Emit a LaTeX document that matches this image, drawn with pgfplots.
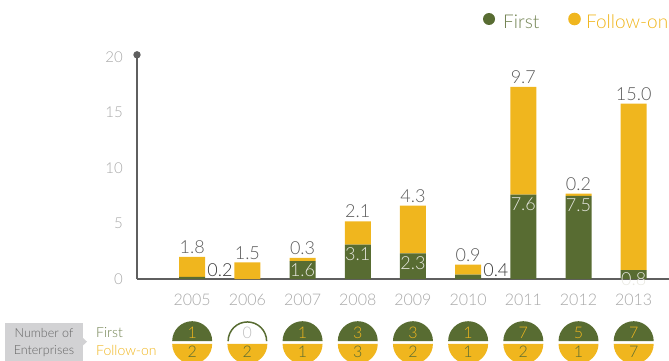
\documentclass[border=0pt]{standalone}
\usepackage{pgfplots}
\pgfplotsset{compat=1.18}
\usepackage{pgfplotstable}
\usepackage{fontspec}
\setmainfont{Lato Light}
\definecolor{fgreen}{RGB}{88,108,50}
\definecolor{fyellow}{RGB}{240,182,30}
\definecolor{ticktxt}{RGB}{168,168,168}
\definecolor{valtxt}{RGB}{90,90,90}
\definecolor{outtxt}{RGB}{55,55,55}
\definecolor{axisgray}{RGB}{95,95,95}
\definecolor{boxgray}{RGB}{210,210,212}
\definecolor{boxtxt}{RGB}{100,100,100}
\definecolor{intxt}{RGB}{232,232,225}
\definecolor{zerotxt}{RGB}{190,190,190}
\pgfplotsset{/pgf/number format/assume math mode=true}

\pgfdeclareplotmark{tophalf}{%
  \pgfpathmoveto{\pgfqpoint{\pgfplotmarksize}{1.3bp}}%
  \pgfpatharc{0}{180}{\pgfplotmarksize}%
  \pgfpathclose
  \pgfusepathqfill}
\pgfdeclareplotmark{tophalfo}{%
  \pgfpathmoveto{\pgfqpoint{\pgfplotmarksize}{1.3bp}}%
  \pgfpatharc{0}{180}{\pgfplotmarksize}%
  \pgfusepathqstroke}
\pgfdeclareplotmark{bothalf}{%
  \pgfpathmoveto{\pgfqpoint{-\pgfplotmarksize}{-1.3bp}}%
  \pgfpatharc{180}{360}{\pgfplotmarksize}%
  \pgfpathclose
  \pgfusepathqfill}

\pgfplotstableread{
x first follow total nfirst nfollow
0 0.2 1.8 2.0 1 2
1 0.0 1.5 1.5 0 2
2 1.6 0.3 1.9 1 1
3 3.1 2.1 5.2 3 3
4 2.3 4.3 6.6 3 2
5 0.4 0.9 1.3 1 1
6 7.6 9.7 17.3 7 2
7 7.5 0.2 7.7 5 1
8 0.8 15.0 15.8 7 7
}\datatable

\begin{document}
\begin{tikzpicture}[x=1bp,y=1bp]
\useasboundingbox (0,0) rectangle (669,360);
\clip (0,0) rectangle (669,360);

% left annotation
\fill[boxgray] (5,-5) rectangle (83,37);
\fill[boxgray] (83,22) -- (87,18.3) -- (83,14.6) -- cycle;
\node[anchor=base, text=boxtxt, font=\fontsize{12.5bp}{12.5bp}\selectfont, inner sep=0pt] at (44,23) {Number of};
\node[anchor=base, text=boxtxt, font=\fontsize{12.5bp}{12.5bp}\selectfont, inner sep=0pt] at (44,6) {Enterprises};
\node[anchor=base west, text=fgreen!85!white, font=\fontsize{14bp}{14bp}\selectfont, inner sep=0pt] at (96,22.5) {First};
\node[anchor=base west, text=fyellow, font=\fontsize{14bp}{14bp}\selectfont, inner sep=0pt] at (96,5) {Follow-on};

% legend
\fill[fgreen] (489,341) circle (6);
\node[anchor=base west, text=fgreen!85!white, font=\fontsize{19bp}{19bp}\selectfont, inner sep=0pt] at (503,332) {First};
\fill[fyellow] (574.5,341) circle (6.3);
\node[anchor=base west, text=fyellow, font=\fontsize{19bp}{19bp}\selectfont, inner sep=0pt] at (586,332) {Follow-on};

\begin{axis}[
  at={(137bp,81bp)}, anchor=south west, scale only axis,
  width=532bp, height=224.2bp,
  xmin=-1, xmax=8.64, ymin=0, ymax=20.2,
  axis lines=left, axis line style={draw=axisgray, line width=1.3bp, -},
  ytick={0,5,10,15,20}, xtick={0,1,2,3,4,5,6,7,8},
  xticklabels={2005,2006,2007,2008,2009,2010,2011,2012,2013},
  major tick length=0pt,
  tick label style={text=ticktxt},
  yticklabel style={anchor=east, inner sep=0pt, xshift=-14bp, font=\fontsize{15bp}{15bp}\selectfont},
  xticklabel style={anchor=north, inner sep=0pt, yshift=-15bp, font=\fontsize{16bp}{16bp}\selectfont},
  ybar stacked, bar width=26bp,
  clip=false,
]
\addplot[fill=fgreen, draw=none] table[x=x, y=first] \datatable;
\addplot[fill=fyellow, draw=none] table[x=x, y=follow] \datatable;
\fill[axisgray] (rel axis cs:0,1) circle (3.7bp);
\end{axis}

\begin{axis}[
  at={(137bp,81bp)}, anchor=south west, scale only axis,
  width=532bp, height=224.2bp,
  xmin=-1, xmax=8.64, ymin=0, ymax=20.2,
  hide axis, clip=false,
]
% follow-on values above bars
\addplot[draw=none, mark=none, point meta=explicit,
  nodes near coords={\pgfmathprintnumber[fixed,fixed zerofill,precision=1]{\pgfplotspointmeta}},
  every node near coord/.append style={anchor=south, inner sep=0pt, yshift=3bp, text=valtxt, font=\fontsize{18bp}{18bp}\selectfont}]
  table[x=x, y=total, meta=follow] \datatable;
% first values inside green bars
\addplot[draw=none, mark=none, point meta=explicit,
  nodes near coords={\pgfmathprintnumber[fixed,fixed zerofill,precision=1]{\pgfplotspointmeta}},
  every node near coord/.append style={anchor=north, inner sep=0pt, yshift=-2.5bp, text=intxt, font=\fontsize{18bp}{18bp}\selectfont}]
  table[x=x, y=y, meta=v] {
x y v
2 1.6 1.6
3 3.1 3.1
4 2.3 2.3
6 7.6 7.6
7 7.5 7.5
8 0.8 0.8
};
% first values beside small bars
\addplot[draw=none, mark=none, point meta=explicit,
  nodes near coords={\pgfmathprintnumber[fixed,fixed zerofill,precision=1]{\pgfplotspointmeta}},
  every node near coord/.append style={anchor=south west, inner sep=0pt, xshift=15bp, yshift=2bp, text=outtxt, font=\fontsize{18bp}{18bp}\selectfont}]
  table[x=x, y=y, meta=v] {
x y v
0 0 0.2
5 0 0.4
};
% number of enterprises circles
\addplot[only marks, mark=tophalf, mark size=20bp, mark options={fill=fgreen, draw=none}]
  coordinates {(0,-5.72) (2,-5.72) (3,-5.72) (4,-5.72) (5,-5.72) (6,-5.72) (7,-5.72) (8,-5.72)};
\addplot[only marks, mark=tophalfo, mark size=19.25bp, mark options={draw=fgreen, line width=1.5bp}]
  coordinates {(1,-5.72)};
\addplot[only marks, mark=bothalf, mark size=20bp, mark options={fill=fyellow, draw=none}]
  coordinates {(0,-5.72) (1,-5.72) (2,-5.72) (3,-5.72) (4,-5.72) (5,-5.72) (6,-5.72) (7,-5.72) (8,-5.72)};
\addplot[draw=none, mark=none, point meta=explicit symbolic, nodes near coords,
  every node near coord/.append style={anchor=center, text=fyellow, font=\fontsize{16bp}{16bp}\selectfont}]
  table[x=x, y=y, meta=n] {
x y n
0 -4.89 1
2 -4.89 1
3 -4.89 3
4 -4.89 3
5 -4.89 1
6 -4.89 7
7 -4.89 5
8 -4.89 7
};
\addplot[draw=none, mark=none, point meta=explicit symbolic, nodes near coords,
  every node near coord/.append style={anchor=center, text=zerotxt, font=\fontsize{16bp}{16bp}\selectfont}]
  table[x=x, y=y, meta=n] {
x y n
1 -4.89 0
};
\addplot[draw=none, mark=none, point meta=explicit symbolic, nodes near coords,
  every node near coord/.append style={anchor=center, text=fgreen, font=\fontsize{16bp}{16bp}\selectfont}]
  table[x=x, y=y, meta=n] {
x y n
0 -6.58 2
1 -6.58 2
2 -6.58 1
3 -6.58 3
4 -6.58 2
5 -6.58 1
6 -6.58 2
7 -6.58 1
8 -6.58 7
};
\end{axis}
\end{tikzpicture}
\end{document}
